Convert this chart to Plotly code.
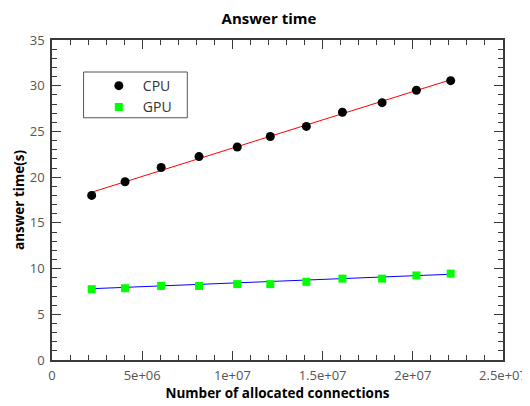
import plotly.graph_objects as go

# Data
connections = [2.2e6, 4.05e6, 6.05e6, 8.15e6, 1.027e7, 1.21e7, 1.41e7, 1.61e7, 1.83e7, 2.02e7, 2.21e7]
cpu_time = [18.0, 19.5, 21.05, 22.25, 23.3, 24.45, 25.55, 27.1, 28.15, 29.5, 30.55]
gpu_time = [7.75, 7.85, 8.1, 8.1, 8.3, 8.3, 8.55, 8.9, 8.9, 9.25, 9.45]
cpu_fit_x = [2.2e6, 2.21e7]
cpu_fit_y = [18.35, 30.65]
gpu_fit_x = [2.2e6, 2.21e7]
gpu_fit_y = [7.8, 9.38]
x_tick_vals = [0, 5e6, 1e7, 1.5e7, 2e7, 2.5e7]
x_tick_labels = ["0", "5e+06", "1e+07", "1.5e+07", "2e+07", "2.5e+07"]
y_tick_vals = [0, 5, 10, 15, 20, 25, 30, 35]

font_family = "Open Sans"
axis_color = "#3a3a3a"

fig = go.Figure()
fig.add_trace(go.Scatter(x=cpu_fit_x, y=cpu_fit_y, mode="lines",
                         line=dict(color="#ff0000", width=1), showlegend=False, hoverinfo="skip"))
fig.add_trace(go.Scatter(x=gpu_fit_x, y=gpu_fit_y, mode="lines",
                         line=dict(color="#0000ff", width=1), showlegend=False, hoverinfo="skip"))
fig.add_trace(go.Scatter(x=connections, y=cpu_time, mode="markers", name="CPU",
                         marker=dict(symbol="circle", color="black", size=9)))
fig.add_trace(go.Scatter(x=connections, y=gpu_time, mode="markers", name="GPU",
                         marker=dict(symbol="square", color="#00ff00", size=8)))

axis_common = dict(
    showline=True, linecolor=axis_color, linewidth=1.5, mirror="ticks",
    ticks="inside", ticklen=9, tickcolor=axis_color, tickwidth=1.2,
    showgrid=False, zeroline=False, automargin=False,
    tickfont=dict(family=font_family, size=13, color="#555555"),
)

fig.update_xaxes(
    range=[0, 2.5e7], tickmode="array", tickvals=x_tick_vals, ticktext=x_tick_labels,
    minor=dict(ticks="inside", ticklen=5, dtick=1e6, tick0=0, tickcolor=axis_color, tickwidth=1),
    ticklabelstandoff=3,
    title=dict(text="<b>Number of allocated connections</b>",
               font=dict(family=font_family, size=13.5, color="black"), standoff=4),
    **axis_common,
)
fig.update_yaxes(
    range=[0, 35], tickmode="array", tickvals=y_tick_vals,
    minor=dict(ticks="inside", ticklen=5, dtick=1, tick0=0, tickcolor=axis_color, tickwidth=1),
    ticklabelstandoff=3,
    title=dict(text="<b>answer time(s)</b>",
               font=dict(family=font_family, size=13.5, color="black"), standoff=2),
    **axis_common,
)

fig.add_shape(type="rect", xref="paper", yref="paper", x0=0.07, x1=0.3, y0=0.757, y1=0.9,
              line=dict(color="#555555", width=1), fillcolor="white", layer="above")

# The page body adds an 8px margin, so the figure is 8px smaller and its margins shifted
fig.update_layout(
    width=522, height=398,
    margin=dict(l=44, r=27, t=32, b=46),
    paper_bgcolor="white", plot_bgcolor="white",
    title=dict(text="<b>Answer time</b>", x=0.5, xanchor="center", y=0.974, yanchor="middle",
               font=dict(family=font_family, size=15, color="black")),
    legend=dict(x=0.095, y=0.906, xanchor="left", yanchor="top",
                borderwidth=0, bgcolor="rgba(0,0,0,0)",
                font=dict(family=font_family, size=14, color="#333333"),
                itemwidth=38, tracegroupgap=0),
    showlegend=True,
)

fig.write_html("out.html")
